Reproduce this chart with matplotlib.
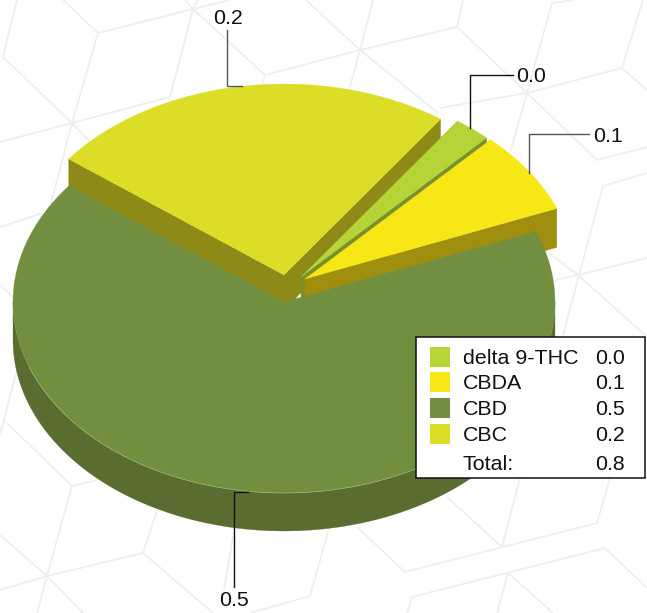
from __future__ import annotations

import matplotlib
matplotlib.use("Agg")
import matplotlib.pyplot as plt
import numpy as np
from matplotlib.collections import LineCollection
from matplotlib.patches import Polygon, Rectangle

plt.rcParams["font.family"] = ["Liberation Sans", "DejaVu Sans"]

# data, in drawing order (clockwise)
names = ["delta 9-THC", "CBDA", "CBD", "CBC"]
values = [0.017, 0.054, 0.514, 0.189]

# styles
top_colors = ["#b7d437", "#f7e717", "#728f40", "#dbdd26"]
side_colors = ["#7b8f2b", "#a08f0e", "#5a6d30", "#8d8a18"]
start_deg = 54.7
rx, ry = 271, 191
center = (284, 302)
offsets = [(17, -25), (21, -23), (0, 0), (0, -27)]
# extrusion at clockwise-start edge, apex, clockwise-end edge
depths = [(25, 25, 25), (39, 39, 39), (38, 38, 38), (28, 36, 21)]
# leader: label pos, ha, elbow path, colour
leaders = [
    ((516, 76), "left", [(513, 75), (470, 75), (470, 128)], "#111111"),
    ((593, 136), "left", [(589, 134), (529, 134), (529, 173)], "#555555"),
    ((234, 600), "center", [(234, 587), (234, 492), (248, 492)], "#111111"),
    ((228, 18), "center", [(227, 30), (227, 86), (242, 86)], "#555555"),
]

# faint cube pattern behind the chart
bg_paths = [
    [(17, 0), (3, 57), (72, 123), (96, 148)],
    [(63, 0), (98, 33), (72, 123), (50, 207)],
    [(98, 33), (193, 9), (230, 0)],
    [(0, 142), (72, 123), (170, 97)],
    [(185, 0), (193, 9), (198, 0)],
    [(193, 9), (170, 97)],
    [(193, 9), (265, 75), (262, 86)],
    [(265, 75), (360, 50), (457, 27), (463, 0)],
    [(306, 0), (360, 50), (438, 113)],
    [(373, 0), (360, 50), (350, 87)],
    [(457, 27), (527, 93), (597, 160), (647, 147)],
    [(440, 108), (527, 93), (622, 68), (643, 0)],
    [(622, 68), (647, 90)],
    [(510, 153), (527, 93), (552, 3), (573, 0)],
    [(647, 173), (603, 186), (563, 335)],
    [(545, 250), (578, 275), (647, 337)],
    [(555, 280), (578, 275), (647, 258)],
    [(0, 285), (13, 297)],
    [(0, 227), (43, 213)],
    [(17, 370), (0, 435)],
    [(0, 430), (5, 420)],
    [(7, 423), (72, 486), (97, 480)],
    [(72, 486), (47, 576), (37, 613)],
    [(0, 535), (47, 576), (83, 613)],
    [(0, 590), (47, 576), (143, 553), (157, 510)],
    [(143, 553), (213, 613)],
    [(233, 536), (224, 590)],
    [(328, 532), (310, 596), (250, 613)],
    [(520, 478), (502, 547)],
    [(447, 497), (502, 547)],
    [(357, 527), (405, 572), (597, 523), (610, 478)],
    [(407, 613), (412, 597), (605, 548), (647, 588)],
    [(497, 613), (508, 573), (553, 613)],
]


def ell(c, theta_deg, dy=0):
    t = np.radians(theta_deg)
    return np.column_stack([c[0] + rx * np.cos(t), c[1] - ry * np.sin(t) + dy])


fig = plt.figure(figsize=(6.47, 6.13), dpi=100)
ax = fig.add_axes([0, 0, 1, 1])
ax.set_xlim(0, 647)
ax.set_ylim(613, 0)
ax.axis("off")

ax.add_collection(LineCollection(bg_paths, colors="#edefef", linewidths=1.3, zorder=1))

fractions = np.array(values) / sum(values)
spans = fractions * 360
starts = start_deg - np.concatenate([[0], np.cumsum(spans)[:-1]])

# the big non-exploded slice goes on top of everything else
order = [3, 0, 1, 2]
z = 2
for i in order:
    c = (center[0] + offsets[i][0], center[1] + offsets[i][1])
    a0, a1 = starts[i], starts[i] - spans[i]
    d0, d_apex, d1 = depths[i]
    theta = np.linspace(a0, a1, 200)
    p0 = ell(c, a0)[0]
    p1 = ell(c, a1)[0]

    if offsets[i] != (0, 0):
        for p, d in ((p0, d0), (p1, d1)):
            quad = [c, tuple(p), (p[0], p[1] + d), (c[0], c[1] + d_apex)]
            ax.add_patch(Polygon(quad, closed=True, fc=side_colors[i], ec=side_colors[i],
                                 lw=0.2, zorder=z))
    else:
        front = np.linspace(180, 360, 200)
        rim = np.vstack([ell(c, front), ell(c, front[::-1], d_apex)])
        ax.add_patch(Polygon(rim, closed=True, fc=side_colors[i], ec=side_colors[i],
                             lw=0.2, zorder=z))
    z += 1

    top = np.vstack([[c], ell(c, theta)])
    ax.add_patch(Polygon(top, closed=True, fc=top_colors[i], ec=top_colors[i], lw=0.2, zorder=z))
    z += 1

    if offsets[i] == (0, 0):
        edge = ell(c, np.linspace(200, 340, 200))
        ax.plot(edge[:, 0], edge[:, 1], color="#9fb371", lw=0.5, zorder=z)
        z += 1

# leaders and slice labels
for i, (pos, ha, path, col) in enumerate(leaders):
    xs, ys = zip(*path)
    ax.plot(xs, ys, color=col, lw=1.0, zorder=z, solid_joinstyle="miter")
    ax.text(pos[0], pos[1], f"{values[i]:.1f}", ha=ha, va="center", fontsize=15.4,
            color="#111111", zorder=z)

# legend box
ax.add_patch(Rectangle((415.5, 336.5), 229.5, 141.5, fc="white", ec="#111111", lw=1.1, zorder=z))
z += 1
row_y = [357, 382, 408, 434]
for i, y in enumerate(row_y):
    ax.add_patch(Rectangle((430, y - 10), 20, 20, fc=top_colors[i], ec="none", zorder=z))
    ax.text(463, y + 1.5, names[i], ha="left", va="center", fontsize=15.4, color="#111111", zorder=z)
    ax.text(595, y + 1.5, f"{values[i]:.1f}", ha="left", va="center", fontsize=15.4,
            color="#111111", zorder=z)
ax.text(462.5, 464, "Total:", ha="left", va="center", fontsize=15.4, color="#111111", zorder=z)
ax.text(595, 464, f"{sum(values):.1f}", ha="left", va="center", fontsize=15.4,
        color="#111111", zorder=z)

fig.savefig("out.png", dpi=100)
plt.close(fig)
